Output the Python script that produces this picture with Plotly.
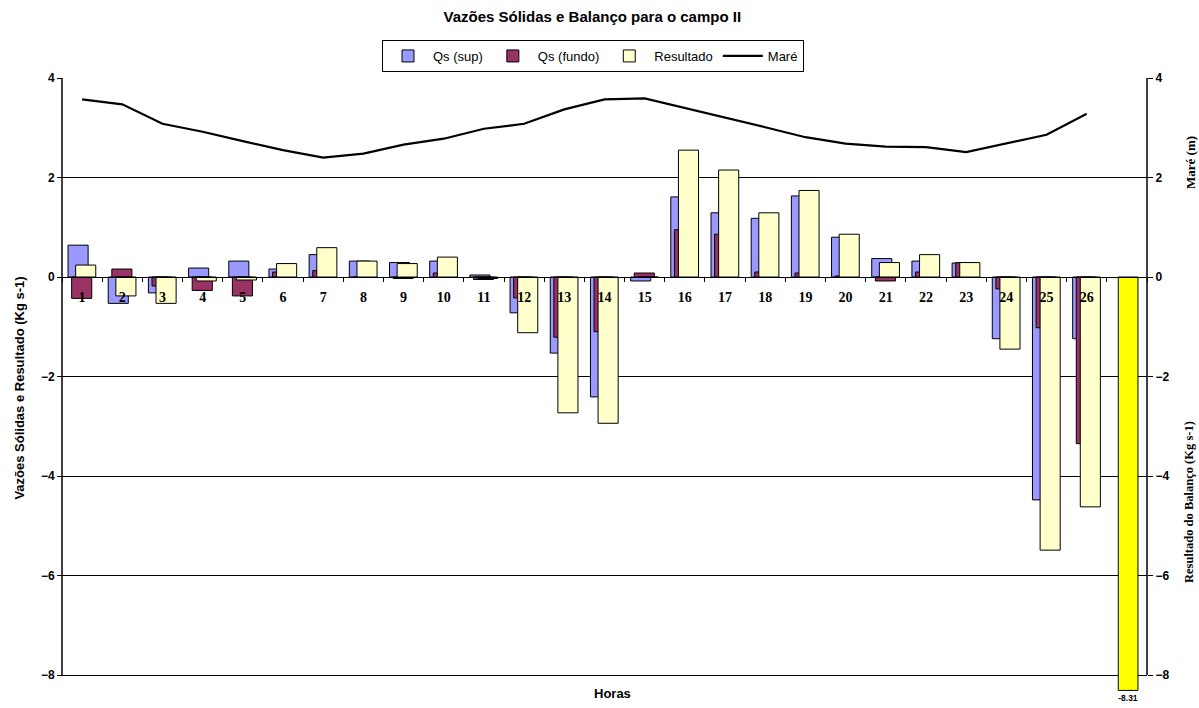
import plotly.graph_objects as go

# ---------------- data ----------------
hours = [str(h) for h in range(1, 27)]
tick_labels = [str(h) for h in range(1, 27)] + [""]
categories = hours + ["27"]

qs_sup = [0.64, -0.53, -0.32, 0.18, 0.32, 0.16, 0.45, 0.32, 0.29, 0.32,
          0.04, -0.72, -1.53, -2.41, -0.08, 1.61, 1.29, 1.18, 1.63, 0.80,
          0.37, 0.32, 0.28, -1.24, -4.48, -1.24]
qs_fundo = [-0.43, 0.16, -0.18, -0.27, -0.38, 0.10, 0.13, 0.0, -0.03, 0.08,
            -0.05, -0.42, -1.21, -1.10, 0.08, 0.95, 0.86, 0.10, 0.08, 0.02,
            -0.08, 0.10, 0.29, -0.24, -1.02, -3.35]
resultado = [0.24, -0.38, -0.53, -0.08, -0.06, 0.27, 0.59, 0.32, 0.27, 0.40,
             -0.03, -1.12, -2.73, -2.94, 0.0, 2.55, 2.15, 1.29, 1.74, 0.86,
             0.29, 0.45, 0.29, -1.45, -5.49, -4.62]
mare = [3.57, 3.47, 3.08, 2.92, 2.73, 2.55, 2.40, 2.48, 2.66, 2.78,
        2.98, 3.08, 3.37, 3.57, 3.59, 3.40, 3.20, 3.01, 2.81, 2.68,
        2.62, 2.61, 2.51, 2.68, 2.86, 3.28]
balanco_x = ["27"]
balanco = [-8.31]
balanco_labels = ["-8.31"]

y_ticks = [-8, -6, -4, -2, 0, 2, 4]

# ---------------- layout geometry ----------------
W, H = 1199, 708
M_L, M_R, M_T, M_B = 62, 52, 78, 10
plot_w = W - M_L - M_R
plot_h = H - M_T - M_B
px_per_unit = 597 / 12.0
bottom_extra = (H - M_B) - 675          # plot pixels below value -8
y_min = -8 - bottom_extra / px_per_unit
zero_pos = (0 - y_min) / (4 - y_min)

SANS = "Liberation Sans, Arial, sans-serif"
SERIF = "Liberation Serif, Times New Roman, serif"

fig = go.Figure()

bar_w = 0.5
line_style = dict(color="#000000", width=1)
fig.add_trace(go.Bar(x=hours, y=qs_sup, name="Qs (sup)", width=bar_w, offset=-0.35,
                     marker=dict(color="#9999FF", line=line_style)))
fig.add_trace(go.Bar(x=hours, y=qs_fundo, name="Qs (fundo)", width=bar_w, offset=-0.26,
                     marker=dict(color="#993366", line=line_style)))
fig.add_trace(go.Bar(x=hours, y=resultado, name="Resultado", width=bar_w, offset=-0.16,
                     marker=dict(color="#FFFFCC", line=line_style)))
fig.add_trace(go.Scatter(x=hours, y=mare, name="Maré", mode="lines", yaxis="y2",
                         line=dict(color="#000000", width=2.2)))
fig.add_trace(go.Bar(x=balanco_x, y=balanco, name="Resultado do Balanço",
                     width=0.49, offset=-0.215, showlegend=False,
                     text=balanco_labels, textposition="outside", cliponaxis=False,
                     textfont=dict(family=SANS, size=10, color="#000000", weight="bold"),
                     marker=dict(color="#FFFF00", line=line_style)))

axis_common = dict(range=[y_min, 4], tickmode="array", tickvals=y_ticks,
                   ticks="outside", ticklen=5, tickcolor="#000000",
                   showline=False, zeroline=False,
                   tickfont=dict(family=SANS, size=12, color="#000000", weight="bold"))

fig.update_layout(
    width=W, height=H,
    margin=dict(l=M_L, r=M_R, t=M_T, b=M_B, pad=0),
    paper_bgcolor="white", plot_bgcolor="white",
    barmode="overlay",
    title=dict(text="Vazões Sólidas e Balanço para o campo II",
               x=0.494, xref="container", xanchor="center",
               y=1 - 11 / H, yref="container", yanchor="top",
               font=dict(family=SANS, size=15, color="#000000", weight="bold")),
    legend=dict(orientation="h", x=(593 - M_L) / plot_w, xanchor="center",
                y=(H - M_B - 40) / plot_h, yanchor="top",
                bordercolor="#000000", borderwidth=1, bgcolor="white",
                font=dict(family=SANS, size=13, color="#000000"),
                itemwidth=40, tracegroupgap=0),
    xaxis=dict(type="category", categoryorder="array", categoryarray=categories,
               range=[-0.5, 26.5], anchor="free", position=zero_pos,
               tickmode="array", tickvals=categories, ticktext=tick_labels,
               tickson="boundaries", ticks="outside", ticklen=4,
               tickcolor="#000000", tickwidth=1, ticklabelstandoff=7,
               showgrid=False, zeroline=False,
               showline=True, linecolor="#000000", linewidth=1,
               tickfont=dict(family=SERIF, size=14, color="#000000", weight="bold"),
               layer="above traces"),
    yaxis=dict(**axis_common, anchor="free", position=0,
               showgrid=True, gridcolor="#000000", gridwidth=1,
               title=dict(text="Vazões Sólidas e Resultado (Kg s-1)", standoff=12,
                          font=dict(family=SANS, size=13, color="#000000", weight="bold"))),
    yaxis2=dict(**axis_common, overlaying="y", side="right", anchor="free", position=1,
                showgrid=False),
    shapes=[
        dict(type="line", xref="paper", yref="y", x0=0, x1=0, y0=-8, y1=4,
             line=dict(color="#000000", width=1.5)),
        dict(type="line", xref="paper", yref="y", x0=1, x1=1, y0=-8, y1=4,
             line=dict(color="#000000", width=1.5)),
    ],
    annotations=[
        dict(text="Horas", x=(612 - M_L) / plot_w, xref="paper",
             y=(H - M_B - 693) / plot_h, yref="paper", showarrow=False,
             xanchor="center", yanchor="middle",
             font=dict(family=SANS, size=13, color="#000000", weight="bold")),
        dict(text="Maré (m)", x=(1190 - M_L) / plot_w, xref="paper",
             y=(H - M_B - 162) / plot_h, yref="paper",
             showarrow=False, textangle=-90, xanchor="center", yanchor="middle",
             font=dict(family=SERIF, size=13, color="#000000", weight="bold")),
        dict(text="Resultado do Balanço (Kg s-1)", x=(1189 - M_L) / plot_w, xref="paper",
             y=(H - M_B - 502) / plot_h, yref="paper", showarrow=False, textangle=-90,
             xanchor="center", yanchor="middle",
             font=dict(family=SERIF, size=12.5, color="#000000", weight="bold")),
    ],
)

fig.write_html("out.html", config={"displayModeBar": False},
               post_script="document.body.style.margin='0px';document.body.style.overflow='hidden';")
